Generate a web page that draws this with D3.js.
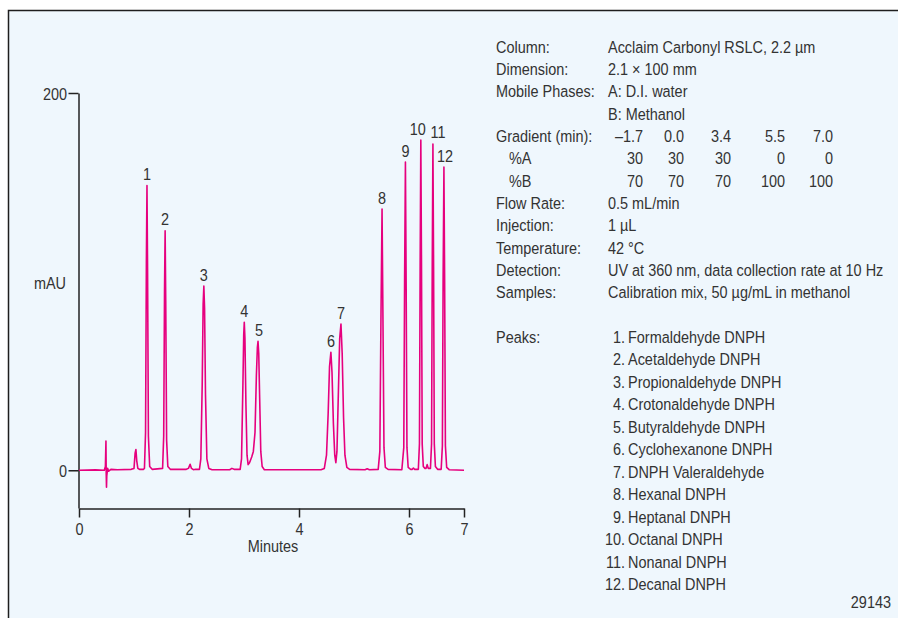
<!DOCTYPE html>
<html>
<head>
<meta charset="utf-8">
<script src="https://cdn.jsdelivr.net/npm/d3@7"></script>
<style>
  body { margin: 0; background: #ffffff; }
  text { font-family: "Liberation Sans", Arial, sans-serif; fill: #333333; }
</style>
</head>
<body>
<svg id="chart" width="898" height="618"></svg>
<script>
// chromatogram trace, [minutes, mAU]
var trace = [
	[0, 0], [0.3, 0.2], [0.46, 0], [0.48, 2], [0.49, 15.5], [0.495, -2], [0.5, -9], [0.505, -3],
	[0.52, 1], [0.54, -0.5], [0.58, 0.5], [0.7, 0.3], [0.95, 0.5], [1.0, 1], [1.02, 9], [1.035, 11],
	[1.05, 5], [1.07, 1], [1.1, 0.5], [1.17, 0.5],
	[1.19, 1], [1.21, 20], [1.225, 110], [1.236, 151], [1.247, 105], [1.262, 18], [1.285, 2], [1.33, 0.5],
	[1.52, 1], [1.54, 18], [1.555, 95], [1.566, 127], [1.577, 90], [1.593, 16], [1.615, 2], [1.66, 0.5],
	[1.95, 0.5], [1.99, 1], [2.02, 3.2], [2.045, 1], [2.08, 0.3], [2.12, 0.5],
	[2.19, 0.5], [2.215, 6], [2.24, 45], [2.257, 88], [2.27, 97.6], [2.283, 86], [2.3, 40], [2.325, 6],
	[2.36, 1], [2.42, 0.3], [2.74, 0.3], [2.78, 1], [2.82, 0.5],
	[2.93, 0.5], [2.955, 6], [2.98, 45], [2.995, 72], [3.005, 78.5], [3.017, 70], [3.035, 35], [3.055, 8],
	[3.075, 3], [3.1, 4], [3.14, 7], [3.17, 10], [3.2, 20], [3.225, 50], [3.243, 65], [3.255, 68.4],
	[3.268, 62], [3.285, 38], [3.305, 10], [3.33, 2], [3.37, 0.3],
	[4.4, 0.3], [4.46, 1], [4.5, 8], [4.53, 30], [4.555, 55], [4.58, 62.6], [4.6, 52], [4.625, 25],
	[4.65, 8], [4.67, 4], [4.69, 10], [4.715, 40], [4.74, 70], [4.763, 77.5], [4.785, 62], [4.81, 28],
	[4.835, 8], [4.87, 1.5], [4.92, 0.5], [5.2, 0.3], [5.24, 0.8], [5.28, 0.3],
	[5.44, 0.5], [5.47, 10], [5.49, 80], [5.51, 138.5], [5.525, 85], [5.545, 12], [5.57, 1.5], [5.62, 0.5],
	[5.87, 0.3], [5.905, 12], [5.92, 100], [5.935, 163.4], [5.948, 100], [5.963, 12], [5.985, 1.5], [6.03, 0.5],
	[6.06, 0.5], [6.08, 1.2], [6.1, 0.5],
	[6.17, 0.5], [6.19, 14], [6.203, 110], [6.215, 175], [6.227, 110], [6.24, 14], [6.26, 2], [6.29, 1],
	[6.31, 1], [6.33, 3], [6.35, 1],
	[6.39, 1], [6.41, 14], [6.423, 110], [6.435, 173], [6.447, 108], [6.46, 14], [6.48, 2], [6.52, 0.5],
	[6.585, 0.5], [6.607, 13], [6.62, 100], [6.635, 160.7], [6.648, 100], [6.662, 13], [6.685, 1.5],
	[6.73, 0.3], [7.0, 0]
];

var peakTimes = [1.236, 1.566, 2.27, 3.005, 3.255, 4.58, 4.763, 5.51, 5.935, 6.215, 6.435, 6.635];
var peakHeights = [151, 127, 97.6, 78.5, 68.4, 62.6, 77.5, 138.5, 163.4, 175, 173, 160.7];
var peakNames = ["Formaldehyde DNPH", "Acetaldehyde DNPH", "Propionaldehyde DNPH", "Crotonaldehyde DNPH",
	"Butyraldehyde DNPH", "Cyclohexanone DNPH", "DNPH Valeraldehyde", "Hexanal DNPH", "Heptanal DNPH",
	"Octanal DNPH", "Nonanal DNPH", "Decanal DNPH"];

var xTicks = [0, 2, 4, 6, 7];
var yTicks = [0, 200];

var infoTop = [["Column:", "Acclaim Carbonyl RSLC, 2.2 µm"], ["Dimension:", "2.1 × 100 mm"],
	["Mobile Phases:", "A: D.I. water"], ["", "B: Methanol"]];
var gradientRows = [["Gradient (min):", ["–1.7", "0.0", "3.4", "5.5", "7.0"]],
	["%A", ["30", "30", "30", "0", "0"]],
	["%B", ["70", "70", "70", "100", "100"]]];
var infoBottom = [["Flow Rate:", "0.5 mL/min"], ["Injection:", "1 µL"], ["Temperature:", "42 °C"],
	["Detection:", "UV at 360 nm, data collection rate at 10 Hz"],
	["Samples:", "Calibration mix, 50 µg/mL in methanol"]];

///////////////////////////////////////////////////

var narrow = 0.85; // no condensed face installed, squeeze the glyphs instead

var svg = d3.select("#chart");

// place a text at x,y with condensed glyphs
function put(t, px, py) {
	return t.attr("transform", "translate(" + px + "," + py + ") scale(" + narrow + ",1)");
}

svg.append("rect")
	.attr("x", 8.5).attr("y", 10.5)
	.attr("width", 900).attr("height", 620)
	.style("fill", "#eff7fd")
	.style("stroke", "#1e1e1e")
	.style("stroke-width", 1.5);

var x = d3.scaleLinear().domain([0, 7]).range([79, 464]);
var y = d3.scaleLinear().domain([-20, 200]).range([508, 93]);

var yAxis = svg.append("g")
	.attr("transform", "translate(78.5,0)")
	.call(d3.axisLeft(y).tickValues(yTicks).tickFormat(d3.format("d"))
		.tickSize(10).tickSizeOuter(0).tickPadding(1.5));

var xAxis = svg.append("g")
	.attr("transform", "translate(0,508.5)")
	.call(d3.axisBottom(x).tickValues(xTicks).tickFormat(d3.format("d"))
		.tickSize(9).tickSizeOuter(0).tickPadding(5));

svg.selectAll(".domain, .tick line")
	.style("stroke", "#222222")
	.style("stroke-width", 1.5);

svg.selectAll(".tick text")
	.attr("fill", null)
	.style("font-family", null)
	.style("font-size", "17px");

yAxis.selectAll(".tick text")
	.attr("dy", "6")
	.attr("x", -11.5 / narrow)
	.attr("transform", "scale(" + narrow + ",1)");

xAxis.selectAll(".tick text")
	.attr("transform", "scale(" + narrow + ",1)");

put(svg.append("text"), 273, 552)
	.attr("text-anchor", "middle")
	.style("font-size", "17px")
	.text("Minutes");

put(svg.append("text"), 50, 289)
	.attr("text-anchor", "middle")
	.style("font-size", "17px")
	.text("mAU");

// trace
var line = d3.line()
	.x(function(d) { return x(d[0]); })
	.y(function(d) { return y(d[1]); });

svg.append("path")
	.datum(trace)
	.attr("d", line)
	.style("fill", "none")
	.style("stroke", "#e6007e")
	.style("stroke-width", 1.6)
	.style("stroke-linejoin", "round");

// peak numbers
var labelNudge = [0, 0, 0, 0, 1, 0, 0, 0, 0, -3, 5, 1];

svg.selectAll(".peaklbl")
	.data(peakTimes)
	.enter()
	.append("text")
	.attr("class", "peaklbl")
	.attr("transform", function(d, i) {
		return "translate(" + (x(d) + labelNudge[i]) + "," + (y(peakHeights[i]) - 5.5) + ") scale(" + narrow + ",1)";
	})
	.attr("text-anchor", "middle")
	.style("font-size", "17px")
	.text(function(d, i) { return i + 1; });

//////////////////////////////////////////////////////

var rowStep = 22.35;
var info = svg.append("g").style("font-size", "17px");
var row = 0;

function rowY(r) { return 52.5 + r * rowStep; }

infoTop.forEach(function(r) {
	put(info.append("text"), 496, rowY(row)).text(r[0]);
	put(info.append("text"), 608, rowY(row)).text(r[1]);
	row++;
});

var gradCols = [643, 684, 731, 785, 833];
gradientRows.forEach(function(r, k) {
	put(info.append("text"), k == 0 ? 496 : 509, rowY(row)).text(r[0]);
	r[1].forEach(function(v, j) {
		put(info.append("text"), gradCols[j], rowY(row))
			.attr("text-anchor", "end")
			.text(v);
	});
	row++;
});

infoBottom.forEach(function(r) {
	put(info.append("text"), 496, rowY(row)).text(r[0]);
	put(info.append("text"), 608, rowY(row)).text(r[1]);
	row++;
});

put(info.append("text"), 496, 343).text("Peaks:");

peakNames.forEach(function(n, i) {
	put(info.append("text"), 625, 343 + i * 22.45)
		.attr("text-anchor", "end")
		.text((i + 1) + ".");
	put(info.append("text"), 628, 343 + i * 22.45)
		.text(n);
});

put(info.append("text"), 891, 608)
	.attr("text-anchor", "end")
	.text("29143");
</script>
</body>
</html>
